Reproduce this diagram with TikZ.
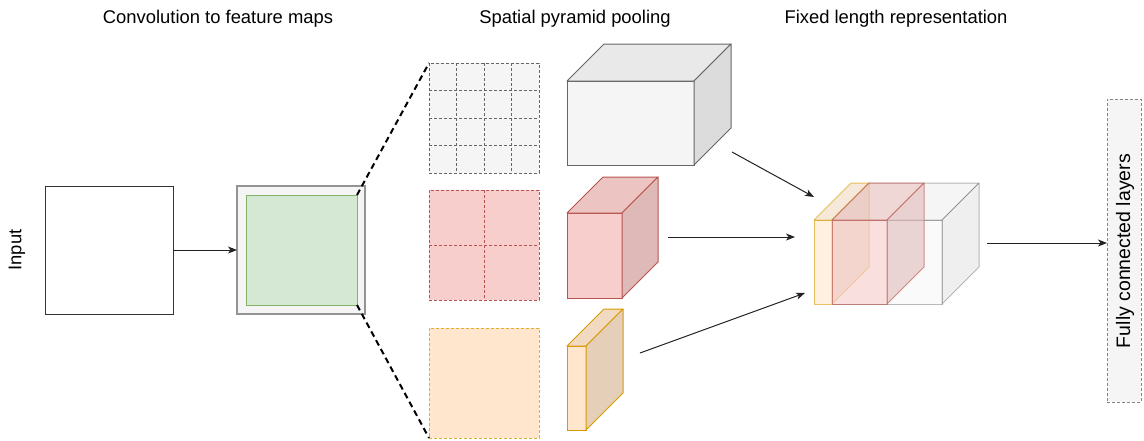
\documentclass[tikz,border=0pt]{standalone}
\usepackage{fontspec}
\setmainfont{Liberation Sans}
\usetikzlibrary{arrows.meta,calc}
\definecolor{gfill}{HTML}{F5F5F5}
\definecolor{gline}{HTML}{666666}
\definecolor{grfill}{HTML}{D5E8D4}
\definecolor{grline}{HTML}{82B366}
\definecolor{rfill}{HTML}{F8CECC}
\definecolor{rline}{HTML}{B85450}
\definecolor{ofill}{HTML}{FFE6CC}
\definecolor{oline}{HTML}{D79B00}
\definecolor{arr}{HTML}{222222}
% #1 name, #2 x, #3 y, #4 w, #5 h, #6 depth, #7 fill, #8 stroke, #9 opacity
\newcommand{\mycube}[9]{%
  \begin{scope}[opacity=#9]
  \node[facebox, fill=#7, draw=#8, minimum width=#4pt, minimum height=#5pt] (#1) at (#2,#3) {};
  \filldraw[fill=#7!95!black, draw=#8, line width=1pt, line join=round] (#1.north west) -- ++(#6,-#6) -- ++(#4,0) -- (#1.north east) -- cycle;
  \filldraw[fill=#7!90!black, draw=#8, line width=1pt, line join=round] (#1.north east) -- ++(#6,-#6) -- ++(0,#5) -- (#1.south east) -- cycle;
  \end{scope}}
\begin{document}
\begin{tikzpicture}[x=1pt,y=-1pt,
  title/.style={font=\fontsize{18.4}{22}\selectfont, anchor=base, inner sep=0},
  facebox/.style={rectangle, inner sep=0, outer sep=0, line width=1pt},
  sqbox/.style={rectangle, inner sep=0, outer sep=0, minimum width=110pt, minimum height=110pt, line width=0.9pt, dash pattern=on 3pt off 2pt},
  gridln/.style={line width=0.8pt, dash pattern=on 3pt off 2pt},
  conn/.style={draw=arr, line width=1pt, -{Stealth[length=9pt,width=7pt,inset=2.5pt]}},
  zoomln/.style={black, line width=2pt, dash pattern=on 6pt off 4pt}]
\useasboundingbox (0,0) rectangle (1144,440);

% titles
\node[title] (t1) at (218,23) {Convolution to feature maps};
\node[title] (t2) at (575,23) {Spatial pyramid pooling};
\node[title] (t3) at (896,23) {Fixed length representation};
\node[font=\fontsize{18.4}{22}\selectfont, rotate=90, inner sep=0] (tin) at (17,250) {Input};

% input and feature map
\node[rectangle, draw=black!80, line width=1pt, minimum width=128pt, minimum height=128pt, inner sep=0, outer sep=0] (input) at (109,250) {};
\node[rectangle, draw=gline!70, fill=gfill, line width=1.3pt, minimum width=128pt, minimum height=128pt, inner sep=0, outer sep=0] (fmap) at (301,250) {};
\node[rectangle, draw=grline, fill=grfill, line width=1pt, minimum width=111pt, minimum height=110pt, inner sep=0, outer sep=0] (green) at (301.5,250) {};
\draw[conn] (input.east) -- (fmap.west);

% pooled grids
\node[sqbox, draw=gline, fill=gfill] (g4) at (484,118) {};
\foreach \i in {1,2,3} {
  \draw[gridln, gline] ($(g4.north west)+(27.5*\i,0)$) -- ($(g4.south west)+(27.5*\i,0)$);
  \draw[gridln, gline] ($(g4.north west)+(0,27.5*\i)$) -- ($(g4.north east)+(0,27.5*\i)$);
}
\node[sqbox, draw=rline, fill=rfill] (g2) at (484,245) {};
\draw[gridln, rline] (g2.north) -- (g2.south);
\draw[gridln, rline] (g2.west) -- (g2.east);
\node[sqbox, draw=oline!80, fill=ofill] (g1) at (484,383) {};

\draw[zoomln] (green.north east) -- (g4.north west);
\draw[zoomln] (green.south east) -- (g1.south west);

% pooled cubes
\mycube{c4}{630.5}{123}{127}{84}{37}{gfill}{gline}{1}
\mycube{c2}{594.5}{255.5}{55}{85}{36}{rfill}{rline}{1}
\mycube{c1}{576.5}{388}{19}{84}{37}{ofill}{oline}{1}

% combined
\mycube{fg}{887}{262}{110}{84}{37}{gfill}{gline}{0.45}
\mycube{fo}{823}{262}{18}{84}{37}{ofill}{oline}{0.6}
\mycube{fr}{859.5}{262}{55}{84}{37}{rfill}{rline}{0.6}

% arrows to combined
\coordinate (a1s) at (732,152); \coordinate (a1e) at (814,197);
\coordinate (a2s) at (668,237); \coordinate (a2e) at (795,237);
\coordinate (a3s) at (640,353); \coordinate (a3e) at (805,293);
\draw[conn] (a1s) -- (a1e);
\draw[conn] (a2s) -- (a2e);
\draw[conn] (a3s) -- (a3e);

% fully connected
\node[rectangle, draw=gline!80, fill=gfill, line width=0.9pt, dash pattern=on 3pt off 2pt, minimum width=34pt, minimum height=303pt, inner sep=0, outer sep=0] (fc) at (1124,250.5) {};
\node[font=\fontsize{19.5}{22}\selectfont, rotate=90, inner sep=0] (fct) at (1125,251) {Fully connected layers};
\coordinate (fcs) at (987,243);
\draw[conn] (fcs) -- (fcs -| fc.west);
\end{tikzpicture}
\end{document}
